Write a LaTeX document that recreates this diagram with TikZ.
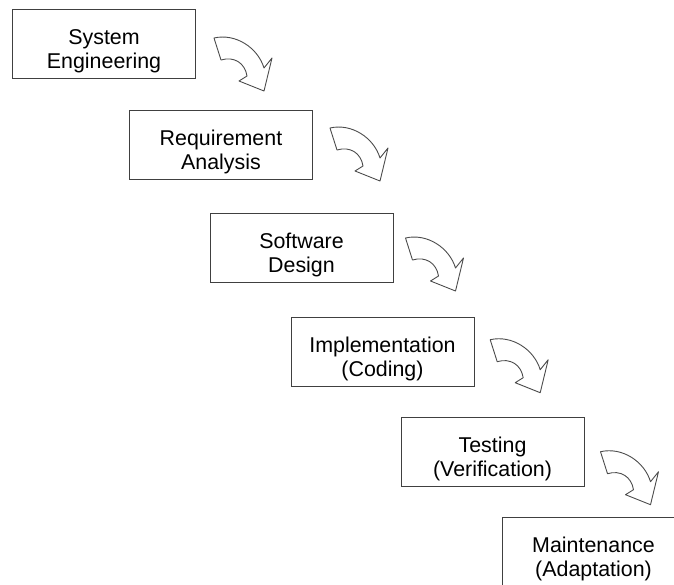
\documentclass[tikz,border=0pt]{standalone}
\usepackage{fontspec}
\setmainfont{Liberation Sans}
\usepackage{tikz}
\newcommand{\boxline}{.5pt}

\begin{document}
\begin{tikzpicture}[x=.5pt,y=-.5pt,
    phase/.style={draw=black!75, line width=\boxline, minimum width=91.5pt, minimum height=34.5pt, inner sep=0pt},
    phasetext/.style={font=\fontsize{10.7}{12}\selectfont, align=center, yshift=-3.5pt},
    bend/.pic={\draw[black!70, line width=.45pt, line join=round]
        (0,0) .. controls (22,-5) and (44,10) .. (50,30) -- (58,20) -- (50,53)
        -- (25,43) -- (33,38) .. controls (31,25) and (20,18) .. (7,22) -- cycle;}]

        \useasboundingbox (0,0) rectangle (674,584);
        \clip (0,0) rectangle (674,584);

          % waterfall steps
        \node (sys) at (104,44) [phase, label={[phasetext]center:System\\Engineering}] {};
        \node (req) at (221,144.5) [phase, label={[phasetext]center:Requirement\\Analysis}] {};
        \node (design) at (301.5,247.5) [phase, label={[phasetext]center:Software\\Design}] {};
        \node (impl) at (382.5,351.5) [phase, label={[phasetext]center:Implementation\\(Coding)}] {};
        \node (test) at (492.5,451.5) [phase, label={[phasetext]center:Testing\\(Verification)}] {};
        \node (maint) at (593.5,551.5) [phase, label={[phasetext]center:Maintenance\\(Adaptation)}] {};

          % bent arrows down to the next step
        \pic at ([shift={(18,-6)}]sys.east) {bend};
        \pic at ([shift={(17,-16.5)}]req.east) {bend};
        \pic at ([shift={(12,-9.5)}]design.east) {bend};
        \pic at ([shift={(15.7,-11.8)}]impl.east) {bend};
        \pic at ([shift={(16,0.2)}]test.east) {bend};

        \end{tikzpicture}
\end{document}
